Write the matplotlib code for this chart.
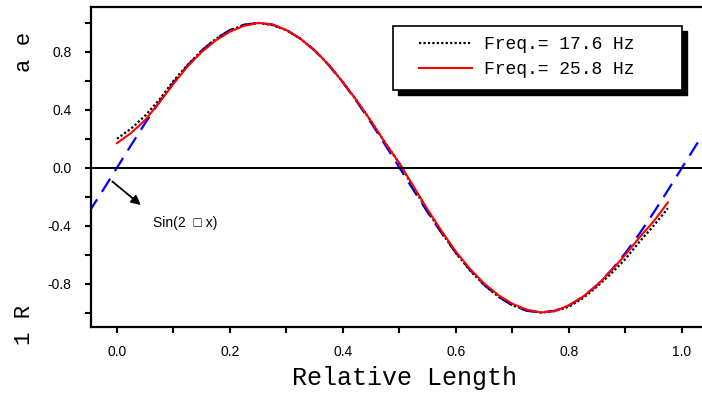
import numpy as np
import matplotlib
matplotlib.use("Agg")
import matplotlib.pyplot as plt
from matplotlib.patches import Rectangle

# reference curve Sin(2*pi*x), read at 0.025 steps
x_sin = np.round(np.arange(-0.05, 1.0501, 0.025), 3)
y_sin = [-0.309, -0.156, 0.0, 0.156, 0.309, 0.454, 0.588, 0.707, 0.809, 0.891,
         0.951, 0.988, 1.0, 0.988, 0.951, 0.891, 0.809, 0.707, 0.588, 0.454,
         0.309, 0.156, 0.0, -0.156, -0.309, -0.454, -0.588, -0.707, -0.809,
         -0.891, -0.951, -0.988, -1.0, -0.988, -0.951, -0.891, -0.809, -0.707,
         -0.588, -0.454, -0.309, -0.156, 0.0, 0.156, 0.309]

# measured mode shapes
x_meas = np.round(np.arange(0, 0.9751, 0.025), 3)
y_17 = [0.20, 0.27, 0.36, 0.47, 0.60, 0.71, 0.81, 0.89, 0.95, 0.985,
        1.0, 0.985, 0.95, 0.89, 0.81, 0.71, 0.59, 0.46, 0.32, 0.17,
        0.03, -0.14, -0.30, -0.45, -0.59, -0.71, -0.81, -0.89, -0.95, -0.985,
        -1.0, -0.99, -0.96, -0.90, -0.82, -0.73, -0.63, -0.51, -0.40, -0.28]
y_25 = [0.17, 0.24, 0.33, 0.45, 0.58, 0.70, 0.80, 0.88, 0.94, 0.98,
        1.0, 0.99, 0.95, 0.89, 0.81, 0.71, 0.59, 0.46, 0.32, 0.17,
        0.03, -0.13, -0.29, -0.44, -0.58, -0.70, -0.80, -0.88, -0.94, -0.98,
        -1.0, -0.99, -0.95, -0.89, -0.81, -0.71, -0.60, -0.48, -0.37, -0.24]

labels = ["Freq.= 17.6 Hz", "Freq.= 25.8 Hz"]

mono = ["Liberation Mono", "DejaVu Sans Mono"]
narrow = ["Liberation Sans Narrow", "Liberation Sans", "DejaVu Sans"]

W, H = 702, 396
fig = plt.figure(figsize=(W / 100, H / 100), dpi=100)
xmin, xmax = -0.046, 1.1
ax = fig.add_axes([91 / W, 1 - 327 / H, (xmax - xmin) * 565 / W, 320 / H])

ax.plot(x_sin, y_sin, color="#0000ff", lw=1.6, ls=(0, (7, 4)))
l1, = ax.plot(x_meas, y_17, color="black", lw=1.6, ls=(0, (1, 1)))
l2, = ax.plot(x_meas, y_25, color="#ff0000", lw=1.5)
ax.axhline(0, color="black", lw=1.4)

ax.set_xlim(xmin, xmax)
ax.set_ylim(-1.1, 1.11)
ax.set_xticks(np.arange(0, 1.01, 0.2))
ax.set_xticks(np.arange(0.1, 1.01, 0.2), minor=True)
ax.set_yticks([-0.8, -0.4, 0.0, 0.4, 0.8])
ax.set_yticks([-1.0, -0.6, -0.2, 0.2, 0.6, 1.0], minor=True)
ax.set_xticklabels(["0.0", "0.2", "0.4", "0.6", "0.8", "1.0"])
ax.set_yticklabels(["-0.8", "-0.4", "0.0", "0.4", "0.8"])
ax.tick_params(which="both", direction="out", length=4, width=1.5,
               top=False, right=False)
ax.tick_params(axis="x", pad=9)
ax.tick_params(axis="y", pad=10)
for t in ax.get_xticklabels() + ax.get_yticklabels():
    t.set_family(narrow)
    t.set_fontsize(10)
for s in ax.spines.values():
    s.set_linewidth(1.6)

# x label centred where the original put it
fig.text(405 / W, 1 - 385 / H, "Relative Length", family=mono, fontsize=18,
         ha="center", va="baseline")

# garbled y label pieces as in the original
fig.text(24 / W, 1 - 52 / H, "a e", rotation=90, family=mono, fontsize=16,
         ha="center", va="center")
fig.text(24 / W, 1 - 325 / H, "1 R", rotation=90, family=mono, fontsize=16,
         ha="center", va="center")

# arrow + annotation
ax.annotate("", xy=(0.046, -0.27), xytext=(-0.012, -0.083),
            arrowprops=dict(arrowstyle="-|>", color="black", lw=1.3,
                            mutation_scale=14))
ax.text(0.064, -0.38, "Sin(2  \u25a1 x)", family=narrow + ["DejaVu Sans"],
        fontsize=10, va="center")

# legend box with hard shadow
bx0, by0, bw, bh = 393 / W, 1 - 90 / H, 289 / W, 64 / H
fig.patches.append(Rectangle((bx0 + 5 / W, by0 - 5 / H), bw, bh,
                             transform=fig.transFigure, color="black", zorder=5))
fig.patches.append(Rectangle((bx0, by0), bw, bh, transform=fig.transFigure,
                             facecolor="white", edgecolor="black", lw=1.2,
                             zorder=6))
leg = fig.legend([l1, l2], labels, loc="center left",
                 bbox_to_anchor=(412 / W, 1 - 57 / H), frameon=False,
                 prop={"family": mono, "size": 13}, handlelength=2.9,
                 handletextpad=0.7, labelspacing=0.45, borderaxespad=0)
leg.set_zorder(7)

fig.savefig("out.png", dpi=100)
